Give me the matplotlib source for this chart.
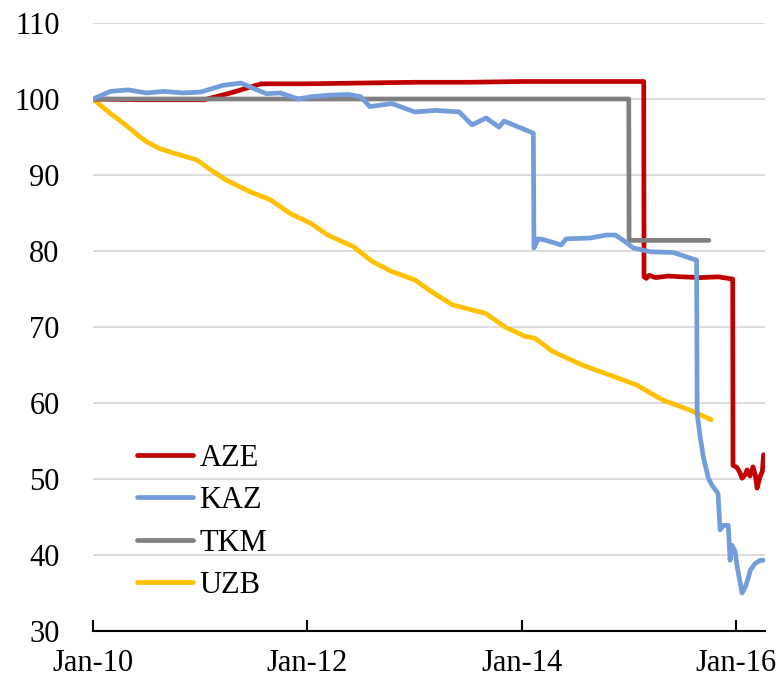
import matplotlib
matplotlib.use("Agg")
import matplotlib.pyplot as plt
import matplotlib.dates as mdates
import pandas as pd

# ---------------- data ----------------
aze_dates = ["2010-01-01", "2010-06-01", "2011-01-15", "2011-04-15", "2011-07-28", "2012-01-01",
             "2012-07-01", "2013-01-01", "2013-07-01", "2014-01-01", "2014-07-01", "2015-02-20",
             "2015-02-21", "2015-03-01", "2015-03-10", "2015-04-01", "2015-05-15", "2015-07-01",
             "2015-09-01", "2015-11-01", "2015-12-20", "2015-12-21", "2016-01-04", "2016-01-14",
             "2016-01-21", "2016-02-01", "2016-02-07", "2016-02-17", "2016-02-27", "2016-03-06",
             "2016-03-12", "2016-03-22", "2016-03-30", "2016-04-03"]
aze_vals = [100.0, 99.9, 99.9, 100.8, 102.0, 102.0,
            102.1, 102.2, 102.2, 102.3, 102.3, 102.3,
            76.6, 76.4, 76.8, 76.5, 76.7, 76.6,
            76.5, 76.6, 76.3, 51.8, 51.5, 50.8,
            50.1, 50.6, 51.2, 50.4, 51.6, 50.5,
            48.8, 50.3, 51.0, 53.2]

kaz_dates = ["2010-01-01", "2010-03-01", "2010-05-01", "2010-07-01", "2010-09-01", "2010-11-01",
             "2011-01-01", "2011-03-20", "2011-05-20", "2011-07-01", "2011-08-15", "2011-10-01",
             "2011-12-01", "2012-01-15", "2012-03-15", "2012-05-20", "2012-07-01", "2012-08-01",
             "2012-10-15", "2013-01-01", "2013-03-15", "2013-06-01", "2013-07-15", "2013-09-01",
             "2013-10-15", "2013-11-01", "2014-02-09", "2014-02-11", "2014-02-25", "2014-03-15",
             "2014-05-15", "2014-06-01", "2014-08-20", "2014-10-15", "2014-11-15", "2014-12-20",
             "2015-01-15", "2015-03-15", "2015-06-01", "2015-07-25", "2015-08-19", "2015-08-21",
             "2015-08-31", "2015-09-11", "2015-09-28", "2015-10-10", "2015-10-31", "2015-11-07",
             "2015-11-18", "2015-12-05", "2015-12-11", "2015-12-17", "2015-12-28", "2016-01-04",
             "2016-01-21", "2016-02-01", "2016-02-12", "2016-02-18", "2016-03-06", "2016-03-23",
             "2016-04-03"]
kaz_vals = [100.0, 101.0, 101.2, 100.8, 101.0, 100.8,
            100.9, 101.8, 102.1, 101.4, 100.7, 100.8,
            100.0, 100.3, 100.5, 100.6, 100.3, 99.0,
            99.4, 98.3, 98.5, 98.3, 96.6, 97.5,
            96.3, 97.1, 95.5, 80.4, 81.6, 81.5,
            80.8, 81.6, 81.7, 82.1, 82.1, 81.2,
            80.4, 79.9, 79.8, 79.1, 78.8, 58.6,
            55.6, 52.9, 50.1, 49.2, 48.1, 43.3,
            43.9, 43.9, 39.3, 41.3, 40.5, 38.5,
            35.0, 35.8, 37.1, 38.0, 38.9, 39.3,
            39.3]

tkm_dates = ["2010-01-01", "2014-12-31", "2015-01-01", "2015-09-30"]
tkm_vals = [100.0, 100.0, 81.4, 81.4]

uzb_dates = ["2010-01-01", "2010-03-01", "2010-04-15", "2010-06-01", "2010-07-01", "2010-08-15",
             "2010-10-01", "2010-12-20", "2011-02-05", "2011-04-01", "2011-06-20", "2011-08-30",
             "2011-11-05", "2012-01-15", "2012-03-10", "2012-06-05", "2012-08-10", "2012-10-15",
             "2013-01-01", "2013-03-01", "2013-05-10", "2013-08-30", "2013-11-05", "2014-01-10",
             "2014-02-15", "2014-04-15", "2014-07-25", "2014-10-25", "2015-01-25", "2015-04-25",
             "2015-07-25", "2015-10-08"]
uzb_vals = [100.0, 98.1, 96.8, 95.3, 94.4, 93.5,
            92.9, 92.0, 90.7, 89.3, 87.8, 86.7,
            84.9, 83.6, 82.1, 80.6, 78.6, 77.3,
            76.2, 74.6, 72.9, 71.8, 70.0, 68.8,
            68.5, 66.8, 65.0, 63.7, 62.4, 60.4,
            59.1, 57.8]

series_names = ["AZE", "KAZ", "TKM", "UZB"]
x_tick_dates = ["2010-01-01", "2012-01-01", "2014-01-01", "2016-01-01"]
x_tick_labels = ["Jan-10", "Jan-12", "Jan-14", "Jan-16"]
y_ticks = [30, 40, 50, 60, 70, 80, 90, 100, 110]

# ---------------- plot ----------------
plt.rcParams['font.family'] = ['Liberation Serif', 'DejaVu Serif']

fig = plt.figure(figsize=(7.84, 6.87), dpi=100)
ax = fig.add_axes([93 / 784, 1 - 631 / 687, (765 - 93) / 784, (631 - 23) / 687])

colors = {"AZE": "#C00000", "KAZ": "#739DDA", "TKM": "#808080", "UZB": "#FFC000"}
zorders = {"AZE": 3, "KAZ": 5, "TKM": 4, "UZB": 2}
data = {
    "AZE": (aze_dates, aze_vals),
    "KAZ": (kaz_dates, kaz_vals),
    "TKM": (tkm_dates, tkm_vals),
    "UZB": (uzb_dates, uzb_vals),
}
lines = []
for name in series_names:
    d, v = data[name]
    ln, = ax.plot(pd.to_datetime(d), v, color=colors[name], lw=3.4,
                  solid_capstyle='round', solid_joinstyle='round',
                  zorder=zorders[name], label=name)
    lines.append(ln)

ax.set_ylim(30, 110)
ax.set_yticks(y_ticks)
ax.set_xlim(pd.Timestamp("2010-01-01"), pd.Timestamp("2016-04-08"))
ax.set_xticks(pd.to_datetime(x_tick_dates))
ax.set_xticklabels(x_tick_labels)

ax.grid(axis='y', color='#D9D9D9', lw=1.3, zorder=0)
ax.set_axisbelow(True)
for s in ['left', 'right', 'top']:
    ax.spines[s].set_visible(False)
ax.spines['bottom'].set_color('black')
ax.spines['bottom'].set_linewidth(1.5)
ax.spines['bottom'].set_zorder(6)

ax.tick_params(axis='y', length=0, pad=24, labelsize=22)
ax.tick_params(axis='x', direction='in', length=8, width=1.5, pad=13, labelsize=22)

leg = ax.legend(handles=lines, loc='upper left', bbox_to_anchor=(0.065, 0.308),
                frameon=False, fontsize=22, handlelength=1.85, handletextpad=0.2,
                labelspacing=0.44, borderpad=0, borderaxespad=0)

fig.savefig("out.png", dpi=100)
